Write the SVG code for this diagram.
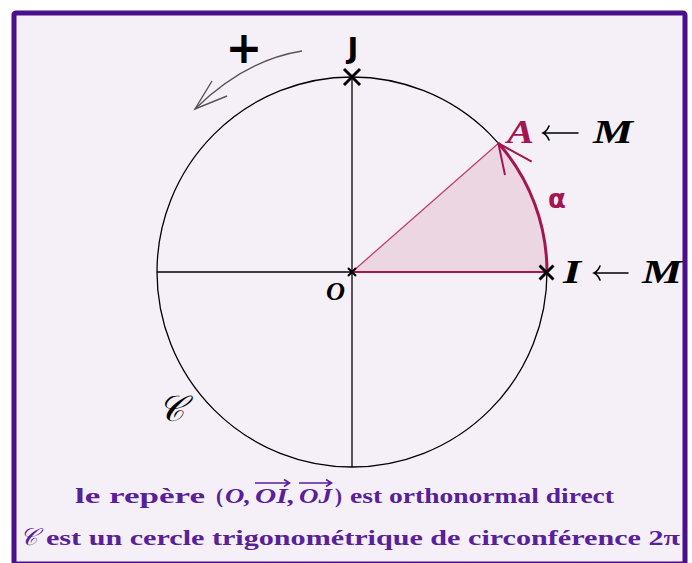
<svg xmlns="http://www.w3.org/2000/svg" width="692" height="563" viewBox="0 0 692 563">
<defs>
<style>
.ax{stroke:#000;stroke-width:1.3;fill:none}
.cross{stroke:#000;stroke-width:3;stroke-linecap:butt}
.crim{fill:#a3164f}
.math{font-family:"Liberation Serif","DejaVu Serif",serif;font-style:italic;font-weight:bold}
.foot{font-family:"Liberation Serif","DejaVu Serif",serif;font-weight:bold;fill:#58209a;font-size:21px}
.larrow{fill:none;stroke:#000;stroke-width:1.6;stroke-linecap:round}
</style>
</defs>
<rect x="0" y="0" width="692" height="563" fill="#ffffff"/>
<rect id="frame" x="14" y="13" width="671" height="551" fill="#f5f0f7" stroke="#4b0f8c" stroke-width="5" rx="2"/>

<g id="sector">
<path d="M352,272 L547,272 A195,195 0 0 0 498.5,143.3 Z" fill="#ecd6e2"/>
</g>

<g id="connectors">
<circle cx="352" cy="272" r="195" class="ax" stroke-width="1.9"/>
<line x1="157" y1="272" x2="547" y2="272" class="ax"/>
<line x1="352" y1="77" x2="352" y2="467" class="ax"/>
<line x1="352" y1="272" x2="498.5" y2="143.3" stroke="#c0406e" stroke-width="1.3"/>
<line x1="352" y1="272" x2="547" y2="272" stroke="#a3164f" stroke-width="2"/>
<path d="M547,272 A195,195 0 0 0 498.5,143.3" fill="none" stroke="#a3164f" stroke-width="3"/>
<path d="M505,175 L498.3,143.3 L531.7,161.7" fill="none" stroke="#a3164f" stroke-width="2"/>
<path d="M302,51 Q245,60 195,109" fill="none" stroke="#555" stroke-width="1.4"/>
<path d="M212,81 L195,109 L227,96" fill="none" stroke="#555" stroke-width="1.4"/>
</g>

<g id="J">
<path d="M344,69 L360,85 M360,69 L344,85" class="cross"/>
<text x="353" y="58" text-anchor="middle" font-family="DejaVu Sans,sans-serif" font-weight="bold" font-size="29">J</text>
</g>
<g id="I">
<path d="M539.5,265.5 L553.5,279.5 M553.5,265.5 L539.5,279.5" class="cross"/>
<text x="563" y="283" class="math" font-size="34" textLength="18" lengthAdjust="spacingAndGlyphs">I</text>
<path d="M594,273 H628 M600,266 Q598,271 594,273 Q598,275 600,280" class="larrow"/>
<text x="642" y="283" class="math" font-size="34" textLength="40" lengthAdjust="spacingAndGlyphs">M</text>
</g>
<g id="O">
<path d="M348,268 L356,276 M356,268 L348,276" stroke="#000" stroke-width="2"/>
<text x="326" y="300" class="math" font-size="25" textLength="19" lengthAdjust="spacingAndGlyphs">O</text>
</g>
<g id="A">
<text x="507" y="143" class="math crim" font-size="34" textLength="27" lengthAdjust="spacingAndGlyphs">A</text>
<path d="M543,133 H578 M549,126 Q547,131 543,133 Q547,135 549,140" class="larrow"/>
<text x="593" y="143" class="math" font-size="34" textLength="40" lengthAdjust="spacingAndGlyphs">M</text>
</g>
<g id="alpha">
<text x="557" y="208" text-anchor="middle" font-family="DejaVu Sans,sans-serif" font-weight="bold" font-size="26" class="crim">α</text>
</g>
<g id="plus">
<text x="244" y="63" text-anchor="middle" font-family="DejaVu Sans,sans-serif" font-weight="bold" font-size="44">+</text>
</g>
<g id="Clabel">
<text x="158" y="421" font-family="DejaVu Serif,Liberation Serif,serif" font-size="36" font-style="italic">𝒞</text>
</g>

<g id="footer">
<text x="75" y="503" class="foot" textLength="130" lengthAdjust="spacingAndGlyphs">le repère</text>
<text x="216" y="503" class="foot">(</text>
<text x="225" y="503" class="foot" font-style="italic" textLength="26" lengthAdjust="spacingAndGlyphs">O,</text>
<text x="255" y="503" class="foot" font-style="italic" textLength="40" lengthAdjust="spacingAndGlyphs">OI,</text>
<text x="299" y="503" class="foot" font-style="italic" textLength="33" lengthAdjust="spacingAndGlyphs">OJ</text>
<text x="335" y="503" class="foot">)</text>
<text x="350" y="503" class="foot" textLength="264" lengthAdjust="spacingAndGlyphs">est orthonormal direct</text>
<path d="M255,483 H289 M284,479.5 L289.5,483 L284,486.5" fill="none" stroke="#58209a" stroke-width="1.6"/>
<path d="M299,483 H331 M326,479.5 L331.5,483 L326,486.5" fill="none" stroke="#58209a" stroke-width="1.6"/>
<text x="20" y="545" font-family="DejaVu Serif,Liberation Serif,serif" font-style="italic" font-size="24" fill="#58209a">𝒞</text>
<text x="46" y="545" class="foot" textLength="634" lengthAdjust="spacingAndGlyphs">est un cercle trigonométrique de circonférence 2π</text>
</g>
</svg>
